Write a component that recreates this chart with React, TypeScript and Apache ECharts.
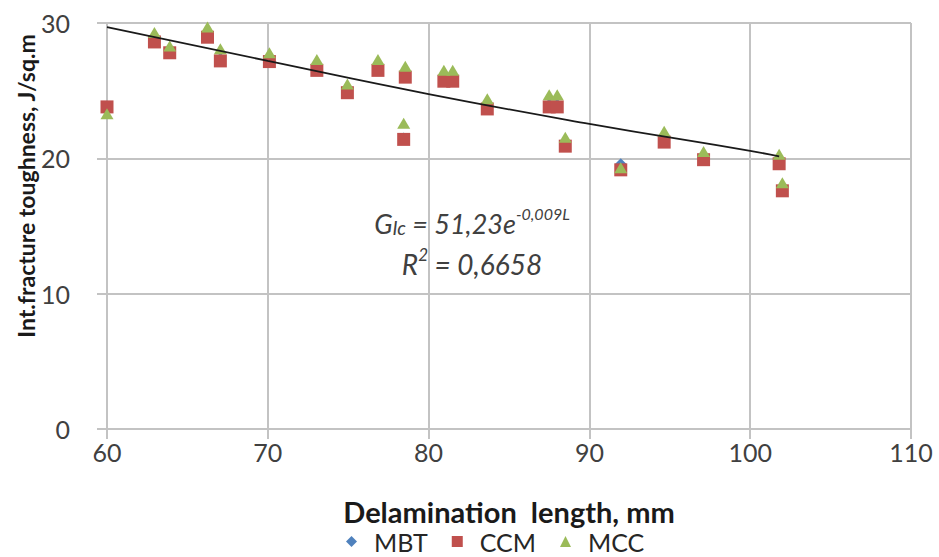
import React, { useEffect, useRef } from "react";
import * as echarts from "echarts";

const delaminationLength = [60, 62.95, 63.9, 66.25, 67.05, 70.1, 73.05, 74.95, 76.85, 78.55, 78.45, 80.95, 81.5, 83.65, 87.5, 88.0, 88.5, 91.95, 94.65, 97.1, 101.8, 102.0];
const mbtValues = [23.7, 28.8, 27.9, 29.1, 27.4, 27.3, 26.7, 25.0, 26.7, 26.2, 21.5, 25.9, 25.9, 23.8, 24.0, 24.0, 21.0, 19.6, 21.4, 20.0, 19.8, 17.7];
const ccmValues = [23.8, 28.6, 27.8, 28.95, 27.2, 27.15, 26.5, 24.85, 26.5, 26.0, 21.4, 25.7, 25.7, 23.65, 23.8, 23.8, 20.9, 19.15, 21.2, 19.9, 19.6, 17.6];
const mccValues = [23.3, 29.3, 28.3, 29.7, 28.1, 27.8, 27.3, 25.5, 27.3, 26.8, 22.6, 26.5, 26.5, 24.4, 24.7, 24.7, 21.55, 19.3, 22.0, 20.5, 20.3, 18.2];
const trendX = [60, 70, 80, 90, 100, 101.8];
const trendY = [29.7, 27.2, 24.75, 22.55, 20.55, 20.15];
const xTicks = { min: 60, max: 110, interval: 10 };
const yTicks = { min: 0, max: 30, interval: 10 };
const seriesNames = ["MBT", "CCM", "MCC"];

const FONT = "Lato, 'Open Sans', sans-serif";

export default function App() {
  const ref = useRef<HTMLDivElement>(null);
  useEffect(() => {
    document.body.style.margin = "0";
    const chart = echarts.init(ref.current!, null, { renderer: "svg" });
    const pairs = (ys: number[]) => delaminationLength.map((x, i) => [x, ys[i]]);
    const gridColor = "#c3c3c3";
    const annColor = "#404040";
    chart.setOption({
      animation: false,
      backgroundColor: "#ffffff",
      textStyle: { fontFamily: FONT },
      grid: { left: 107, right: 28, top: 23, bottom: 128, containLabel: false },
      legend: {
        data: [
          { name: seriesNames[0], icon: "diamond" },
          { name: seriesNames[1], icon: "rect" },
          { name: seriesNames[2], icon: "triangle" },
        ],
        top: 529,
        left: 346,
        itemWidth: 11,
        itemHeight: 11,
        itemGap: 24,
        padding: 0,
        textStyle: { fontSize: 25, lineHeight: 25, padding: [0, 0, 0, 12], color: "#262626", fontFamily: FONT },
      },
      xAxis: {
        type: "value",
        min: xTicks.min,
        max: xTicks.max,
        interval: xTicks.interval,
        axisLine: { show: true, onZero: false, lineStyle: { color: gridColor, width: 2 } },
        axisTick: { show: true, length: 10, lineStyle: { color: gridColor, width: 2 } },
        axisLabel: { fontSize: 25, color: "#404040", margin: 10, fontFamily: FONT },
        splitLine: { show: true, lineStyle: { color: gridColor, width: 2 } },
      },
      yAxis: {
        type: "value",
        min: yTicks.min,
        max: yTicks.max,
        interval: yTicks.interval,
        axisLine: { show: true, onZero: false, lineStyle: { color: gridColor, width: 2 } },
        axisTick: { show: true, length: 10, lineStyle: { color: gridColor, width: 2 } },
        axisLabel: { fontSize: 25, color: "#404040", margin: 37, fontFamily: FONT },
        splitLine: { show: true, lineStyle: { color: gridColor, width: 2 } },
      },
      graphic: [
        {
          type: "text",
          x: 26,
          y: 186,
          rotation: Math.PI / 2,
          style: {
            text: "Int.fracture toughness, J/sq.m",
            fontSize: 23,
            fontWeight: "bold",
            fontFamily: FONT,
            fill: "#1a1a1a",
            align: "center",
            verticalAlign: "middle",
          },
        },
        {
          type: "text",
          x: 509,
          y: 511,
          style: {
            text: "Delamination  length, mm",
            fontSize: 29,
            lineHeight: 26,
            fontWeight: "bold",
            fontFamily: FONT,
            fill: "#1a1a1a",
            align: "center",
            verticalAlign: "middle",
          },
        },
        {
          type: "text",
          x: 472,
          y: 221,
          style: {
            text: "{a|G}{s|Ic}{a| = 51,23e}{p|-0,009L}",
            align: "center",
            verticalAlign: "middle",
            rich: {
              a: { fontSize: 27, fontStyle: "italic", fontFamily: FONT, fill: annColor, color: annColor, verticalAlign: "bottom", lineHeight: 32 },
              s: { fontSize: 19, fontStyle: "italic", fontFamily: FONT, fill: annColor, color: annColor, verticalAlign: "bottom", lineHeight: 30 },
              p: { fontSize: 16, fontStyle: "italic", fontFamily: FONT, fill: annColor, color: annColor, verticalAlign: "top", lineHeight: 30 },
            },
          },
        },
        {
          type: "text",
          x: 472,
          y: 262,
          style: {
            text: "{a|R}{p|2}{a| = 0,6658}",
            align: "center",
            verticalAlign: "middle",
            rich: {
              a: { fontSize: 28, fontStyle: "italic", fontFamily: FONT, fill: annColor, color: annColor, verticalAlign: "bottom", lineHeight: 32 },
              p: { fontSize: 17, fontStyle: "italic", fontFamily: FONT, fill: annColor, color: annColor, verticalAlign: "top", lineHeight: 30 },
            },
          },
        },
      ],
      series: [
        {
          name: seriesNames[0],
          type: "scatter",
          symbol: "diamond",
          symbolSize: 11,
          itemStyle: { color: "#4F81BD", opacity: 1 },
          data: pairs(mbtValues),
          z: 2,
        },
        {
          name: seriesNames[1],
          type: "scatter",
          symbol: "rect",
          symbolSize: 13,
          itemStyle: { color: "#C0504D", opacity: 1 },
          data: pairs(ccmValues),
          z: 3,
        },
        {
          name: seriesNames[2],
          type: "scatter",
          symbol: "triangle",
          symbolSize: [13, 11],
          itemStyle: { color: "#9BBB59", opacity: 1 },
          data: pairs(mccValues),
          z: 4,
        },
        {
          name: "Trend",
          type: "line",
          data: trendX.map((x, i) => [x, trendY[i]]),
          smooth: true,
          symbol: "none",
          silent: true,
          lineStyle: { color: "#1a1a1a", width: 1.8 },
          z: 5,
        },
      ],
    });
    return () => chart.dispose();
  }, []);
  return <div ref={ref} style={{ position: "absolute", left: 0, top: 0, width: 939, height: 557 }} />;
}
